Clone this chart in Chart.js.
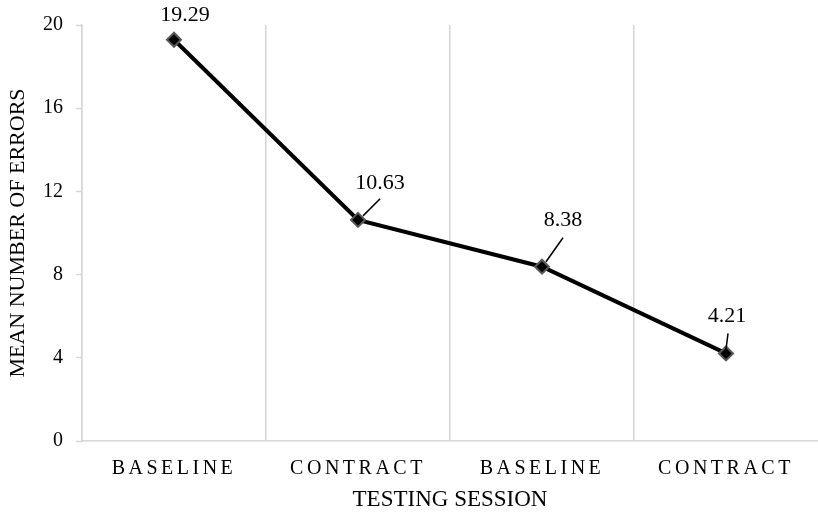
<!DOCTYPE html>
<html>
<head>
<meta charset="utf-8">
<title>Mean number of errors by testing session</title>
<script src="https://cdn.jsdelivr.net/npm/chart.js@4/dist/chart.umd.min.js"></script>
<style>
  html, body { margin: 0; padding: 0; background: #ffffff; }
  #wrap { width: 818px; height: 515px; position: relative; }
</style>
</head>
<body>
<div id="wrap"><canvas id="chart"></canvas></div>
<script>
// Session labels along the x axis and the mean error count for each
const sessions = ['BASELINE', 'CONTRACT', 'BASELINE', 'CONTRACT'];
const meanErrors = [19.29, 10.63, 8.38, 4.21];
const yTicks = [0, 4, 8, 12, 16, 20];

// Where each value label sits relative to its point, and an optional leader line
const labelStyle = [
  { dx: 11, dy: -25, leader: null },
  { dx: 22, dy: -37, leader: [5, -4, 22, -21] },
  { dx: 21, dy: -46, leader: [4, -5, 21, -29] },
  { dx: 1,  dy: -37, leader: [0, -4, 2, -20] }
];

const SERIF = '"Liberation Serif", "Times New Roman", serif';
const AXIS_GREY = '#d6d6d6';

// Category axis whose tick labels are drawn letter-spaced
class SpacedCategoryScale extends Chart.CategoryScale {
  drawLabels(chartArea) {
    const ctx = this.ctx;
    const prev = ctx.letterSpacing;
    ctx.letterSpacing = '3.5px';
    super.drawLabels(chartArea);
    ctx.letterSpacing = prev || '0px';
  }
}
SpacedCategoryScale.id = 'spacedCategory';
SpacedCategoryScale.defaults = Chart.CategoryScale.defaults;
Chart.register(SpacedCategoryScale);

// Value labels with short leader lines
const valueLabels = {
  id: 'valueLabels',
  afterDatasetsDraw(chart) {
    const ctx = chart.ctx;
    const meta = chart.getDatasetMeta(0);
    ctx.save();
    ctx.font = '22px ' + SERIF;
    ctx.fillStyle = '#000000';
    ctx.strokeStyle = '#000000';
    ctx.lineWidth = 1.5;
    ctx.textAlign = 'center';
    ctx.textBaseline = 'middle';
    meta.data.forEach((pt, i) => {
      const st = labelStyle[i];
      if (st.leader) {
        ctx.beginPath();
        ctx.moveTo(pt.x + st.leader[0], pt.y + st.leader[1]);
        ctx.lineTo(pt.x + st.leader[2], pt.y + st.leader[3]);
        ctx.stroke();
      }
      ctx.fillText(meanErrors[i].toFixed(2), pt.x + st.dx, pt.y + st.dy);
    });
    ctx.restore();
  }
};

new Chart(document.getElementById('chart'), {
  type: 'line',
  data: {
    labels: sessions,
    datasets: [{
      data: meanErrors,
      borderColor: '#000000',
      borderWidth: 4,
      tension: 0,
      clip: false,
      pointStyle: 'rectRot',
      pointRadius: 7,
      pointHoverRadius: 7,
      pointBackgroundColor: '#000000',
      pointBorderColor: '#595959',
      pointBorderWidth: 2
    }]
  },
  options: {
    responsive: true,
    maintainAspectRatio: false,
    animation: false,
    layout: { autoPadding: false, padding: { top: 25, right: -3, bottom: 0, left: 0 } },
    plugins: {
      legend: { display: false },
      tooltip: { enabled: false }
    },
    scales: {
      x: {
        type: 'spacedCategory',
        offset: true,
        grid: {
          offset: true,
          // band separators only; the closing line at the far right is left out
          color: (c) => (c.type === 'tick' ? AXIS_GREY : 'rgba(0,0,0,0)'),
          lineWidth: 1.5,
          drawTicks: false
        },
        border: { color: AXIS_GREY, width: 1.5 },
        ticks: {
          color: '#000000',
          font: { family: SERIF, size: 20 },
          padding: 16,
          autoSkip: false,
          maxRotation: 0
        },
        title: {
          display: true,
          text: 'TESTING SESSION',
          color: '#000000',
          font: { family: SERIF, size: 23 },
          padding: { top: 0, bottom: 1 }
        },
        afterFit(scale) { scale.height = 74; }
      },
      y: {
        min: 0,
        max: 20,
        afterBuildTicks(scale) { scale.ticks = yTicks.map(v => ({ value: v })); },
        grid: {
          color: 'rgba(0,0,0,0)',
          tickColor: AXIS_GREY,
          tickLength: 6,
          tickWidth: 1.5,
          drawTicks: true
        },
        border: { color: AXIS_GREY, width: 1.5 },
        ticks: {
          color: '#000000',
          font: { family: SERIF, size: 20 },
          padding: 13
        },
        title: {
          display: true,
          text: 'MEAN NUMBER OF ERRORS',
          color: '#000000',
          font: { family: SERIF, size: 22 },
          padding: { top: 5, bottom: 0 }
        },
        afterFit(scale) { scale.width = 82; }
      }
    }
  },
  plugins: [valueLabels]
});
</script>
</body>
</html>
